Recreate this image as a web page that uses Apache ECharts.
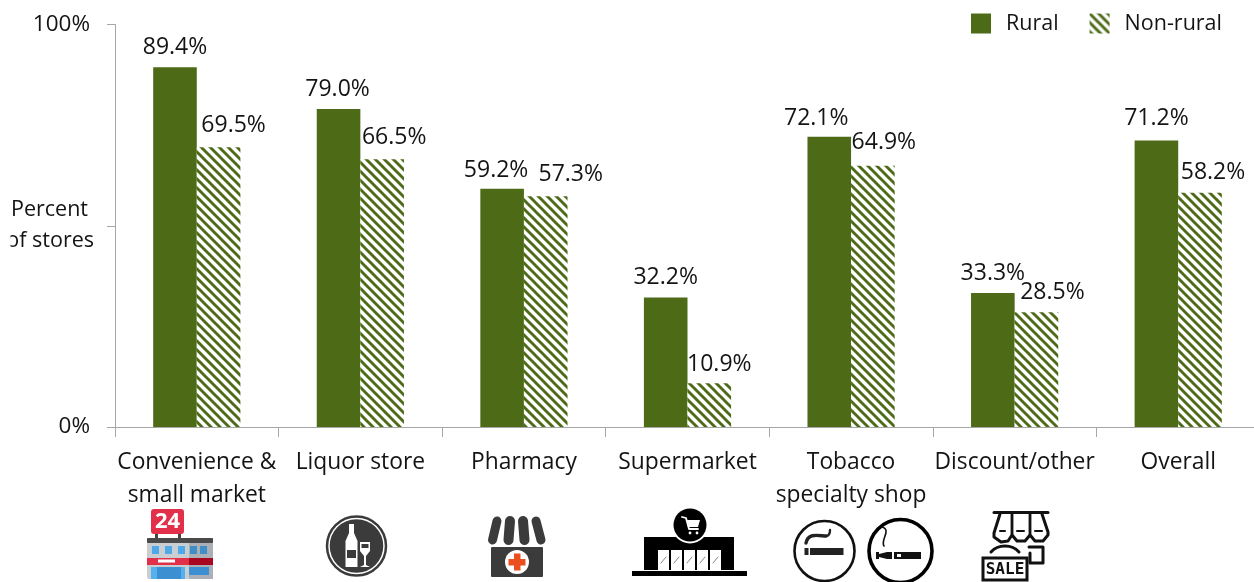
<!DOCTYPE html>
<html>
<head>
<meta charset="utf-8">
<style>html,body{margin:0;padding:0;background:#fff;overflow:hidden}#chart{width:1254px;height:582px}</style>
<script src="https://cdn.jsdelivr.net/npm/echarts@6/dist/echarts.min.js"></script>
</head>
<body>
<div id="chart"></div>
<script>
// Store types and the share of stores in each, by locale
const storeTypes = ['Convenience &\nsmall market', 'Liquor store', 'Pharmacy', 'Supermarket', 'Tobacco\nspecialty shop', 'Discount/other', 'Overall'];
const rural = [89.4, 79.0, 59.2, 32.2, 72.1, 33.3, 71.2];
const nonRural = [69.5, 66.5, 57.3, 10.9, 64.9, 28.5, 58.2];
const valueTicks = ['0%', '', '100%'];

// Hand placement of value labels so neighbouring labels stay apart
const ruralLabelNudge = [[0, -2], [-1, -2], [-6, -1], [0, -2], [-13, -1], [0, -2], [0, -4]];
const nonRuralLabelNudge = [[15, -4], [12, -4], [25, -4], [10, -1], [11, -6], [16, -2], [13, -3]];

const GREEN = '#4d6a17';
const INK = '#141414';
const DARK = '#3b3b3b';
const FONT = '"Open Sans", "Noto Sans", sans-serif';
const SIZE = 23;
const STRIPE_PERIOD = 9;

function stripePattern() {
  const p = STRIPE_PERIOD;
  const c = document.createElement('canvas');
  c.width = c.height = p;
  const g = c.getContext('2d');
  g.fillStyle = '#fff';
  g.fillRect(0, 0, p, p);
  g.strokeStyle = GREEN;
  g.lineWidth = 2.9;
  for (let o = -p; o <= p; o += p) {
    g.beginPath();
    g.moveTo(o - 2, -2);
    g.lineTo(o + p + 2, p + 2);
    g.stroke();
  }
  return { image: c, repeat: 'repeat' };
}

function labelled(values, nudges) {
  return values.map((v, i) => ({ value: v, label: { offset: nudges[i] } }));
}

// Icon helpers
const rect = (x, y, width, height, fill, r) => ({ type: 'rect', shape: { x, y, width, height, r: r || 0 }, style: { fill } });
const circle = (cx, cy, r, fill, stroke, lineWidth) => ({ type: 'circle', shape: { cx, cy, r }, style: { fill: fill || 'none', stroke: stroke || 'none', lineWidth: lineWidth || 0 } });
const poly = (points, fill) => ({ type: 'polygon', shape: { points }, style: { fill } });
const stroke = (points, color, lineWidth) => ({ type: 'polyline', shape: { points }, style: { fill: 'none', stroke: color, lineWidth, lineJoin: 'round', lineCap: 'round' } });
const curve = (x1, y1, cpx1, cpy1, cpx2, cpy2, x2, y2, color, lineWidth) => ({ type: 'bezierCurve', shape: { x1, y1, cpx1, cpy1, cpx2, cpy2, x2, y2 }, style: { fill: 'none', stroke: color, lineWidth, lineCap: 'round' } });
const word = (text, x, y, font, fill, align) => ({ type: 'text', x, y, style: { text, font, fill, align: align || 'center', verticalAlign: 'middle' } });

function convenienceIcon() {
  return [
    rect(155, 533, 3, 6, '#444'), rect(178, 533, 3, 6, '#444'),
    rect(151, 509, 33, 25, '#e2304a', 3),
    word('24', 167.5, 522, 'bold 22px ' + FONT, '#fff'),
    rect(147, 538, 66, 41, '#c9ced2', 2),
    rect(189, 538, 24, 41, '#aab0b5'),
    rect(147, 538, 66, 5, '#4a4a4a', 1),
    ...[152, 165, 178, 190, 200].map(x => rect(x, 546, 7, 8, x < 185 ? '#4fa8e8' : '#3e8ec8')),
    rect(147, 558, 42, 7, '#e2304a'), rect(189, 558, 24, 7, '#a8071f'),
    rect(158, 559.5, 17, 3, '#fff'),
    rect(151, 567, 34, 12, '#55b0ee'), rect(157, 567, 24, 12, '#3c8fd0'),
    rect(189, 567, 20, 8, '#3c8fd0')
  ];
}

function liquorIcon() {
  const cx = 356.5, cy = 546;
  return [
    circle(cx, cy, 29.5, DARK, DARK, 2.5),
    circle(cx, cy, 27.5, 'none', '#fff', 1.5),
    poly([[349, 524], [354, 524], [354, 533], [357.5, 541], [357.5, 567], [345.5, 567], [345.5, 541], [349, 533]], '#fff'),
    rect(347, 550, 9, 8, DARK),
    poly([[360, 542], [370, 542], [370, 551], [366, 556], [366, 565], [370, 567], [360, 567], [364, 565], [364, 556], [360, 551]], '#fff'),
    rect(361.5, 544, 7, 4, DARK)
  ];
}

function pharmacyIcon() {
  return [
    stroke([[497, 521], [492.5, 540]], DARK, 9),
    stroke([[510, 521], [508.5, 540]], DARK, 10),
    stroke([[523, 521], [524.5, 540]], DARK, 10),
    stroke([[536, 521], [541, 540]], DARK, 9),
    rect(491, 547, 52, 30, DARK, 1),
    circle(517, 562, 12, '#fff'),
    rect(514, 553.5, 6.5, 17, '#ea4f1f'), rect(508.5, 559, 17, 6.5, '#ea4f1f')
  ];
}

function supermarketIcon() {
  const doors = [658, 671, 684, 697, 710];
  return [
    rect(644, 537, 90, 33, '#000'),
    rect(632, 571, 115, 5, '#000'),
    ...doors.map(x => rect(x, 550, 11, 20, '#fff')),
    ...doors.map(x => stroke([[x + 3, 563], [x + 8, 557]], '#888', 1)),
    circle(690, 525, 18.5, '#fff'),
    circle(690, 525, 16.5, '#000'),
    stroke([[682, 517], [686, 518], [689, 529], [698, 529]], '#fff', 1.8),
    poly([[687, 520], [700, 520], [698, 527], [689, 527]], '#fff'),
    circle(690, 533, 1.4, '#fff'), circle(697, 533, 1.4, '#fff')
  ];
}

function tobaccoIcon() {
  return [
    circle(824.5, 551, 30, 'none', '#111', 2.6),
    rect(804.5, 548, 4, 7, '#222'), rect(810, 548, 33.5, 7, '#222'),
    curve(806, 543, 808, 532, 820, 536, 826, 536, '#222', 3.4),
    curve(826, 536, 829, 536, 830, 533, 830, 530, '#222', 2.4),
    circle(900.5, 551, 31.5, 'none', '#000', 3.6),
    curve(882, 527, 892, 530, 880, 540, 884, 546, '#111', 1.6),
    poly([[876, 552], [879, 552], [879, 554], [887, 552], [892, 552], [892, 559], [887, 559], [879, 557], [879, 559], [876, 559]], '#111'),
    rect(894, 552, 27, 7, '#111'),
    rect(897, 554, 4, 3, '#fff')
  ];
}

function discountIcon() {
  const top = 514;
  return [
    stroke([[994, 512.5], [1048, 512.5]], '#111', 3),
    stroke([[1000, 514], [994, 533], [994, 537], [1001, 542], [1008, 541], [1012, 535], [1017, 541], [1025, 541], [1030, 535], [1035, 541], [1043, 541], [1048, 535], [1048, 532], [1042, 514]], '#111', 3),
    stroke([[1012, top], [1012, 534]], '#111', 2.8),
    stroke([[1030, top], [1030, 534]], '#111', 2.8),
    stroke([[1000, 531], [1005, 531]], '#111', 2),
    stroke([[1017, 531], [1024, 531]], '#111', 2),
    stroke([[1035, 531], [1042, 531]], '#111', 2),
    curve(991, 552, 998, 544, 1012, 544, 1019, 552, '#111', 3),
    stroke([[1029, 547], [1043, 547], [1043, 563], [1030, 563], [1030, 553]], '#111', 3),
    { type: 'rect', shape: { x: 983, y: 558, width: 44, height: 22 }, style: { fill: '#fff', stroke: '#111', lineWidth: 3 } },
    word('SALE', 1005, 570, 'bold 16px "DejaVu Sans Mono", monospace', '#111')
  ];
}

const icons = [...convenienceIcon(), ...liquorIcon(), ...pharmacyIcon(), ...supermarketIcon(), ...tobaccoIcon(), ...discountIcon()];

const chart = echarts.init(document.getElementById('chart'), null, { renderer: 'canvas' });
const axisLine = { show: true, lineStyle: { color: '#a6a6a6', width: 1 } };
const valueLabel = {
  show: true,
  position: 'top',
  distance: 6,
  formatter: p => p.value.toFixed(1) + '%',
  fontFamily: FONT,
  fontSize: SIZE,
  color: INK
};

chart.setOption({
  animation: false,
  backgroundColor: '#fff',
  textStyle: { fontFamily: FONT },
  grid: { left: 115, top: 24.5, width: 1145, height: 402.5, outerBoundsMode: 'none' },
  legend: {
    left: 966,
    top: 7.5,
    itemWidth: 20,
    itemHeight: 20,
    itemGap: 31,
    icon: 'rect',
    selectedMode: false,
    textStyle: { fontFamily: FONT, fontSize: 21.5, color: INK, padding: [0, 0, 0, 10] },
    data: ['Rural', 'Non-rural']
  },
  xAxis: {
    type: 'category',
    data: storeTypes,
    axisLine,
    axisTick: { show: true, length: 10, lineStyle: { color: '#a6a6a6' } },
    axisLabel: { interval: 0, margin: 19, fontFamily: FONT, fontSize: 22.8, color: INK, lineHeight: 33 }
  },
  yAxis: {
    type: 'value',
    min: 0,
    max: 100,
    interval: 50,
    splitLine: { show: false },
    axisLine,
    axisTick: { show: true, length: 8, lineStyle: { color: '#a6a6a6' } },
    axisLabel: {
      margin: 25,
      fontFamily: FONT,
      fontSize: 22.5,
      color: INK,
      formatter: v => valueTicks[v / 50]
    }
  },
  series: [
    {
      name: 'Rural',
      type: 'bar',
      barWidth: 43.6,
      barGap: 0,
      itemStyle: { color: GREEN },
      label: valueLabel,
      data: labelled(rural, ruralLabelNudge)
    },
    {
      name: 'Non-rural',
      type: 'bar',
      barWidth: 43.6,
      barGap: 0,
      itemStyle: { color: stripePattern() },
      label: valueLabel,
      data: labelled(nonRural, nonRuralLabelNudge)
    }
  ],
  graphic: [
    { type: 'text', x: 88, y: 210, style: { text: 'Percent', font: '21.5px ' + FONT, fill: INK, align: 'right', verticalAlign: 'middle' } },
    { type: 'text', x: 94, y: 241, style: { text: 'of stores', font: '21.5px ' + FONT, fill: INK, align: 'right', verticalAlign: 'middle' } },
    { type: 'rect', shape: { x: 0, y: 226, width: 10.5, height: 28 }, style: { fill: '#fff' }, z: 100 },
    { type: 'group', children: icons }
  ]
});
</script>
</body>
</html>
